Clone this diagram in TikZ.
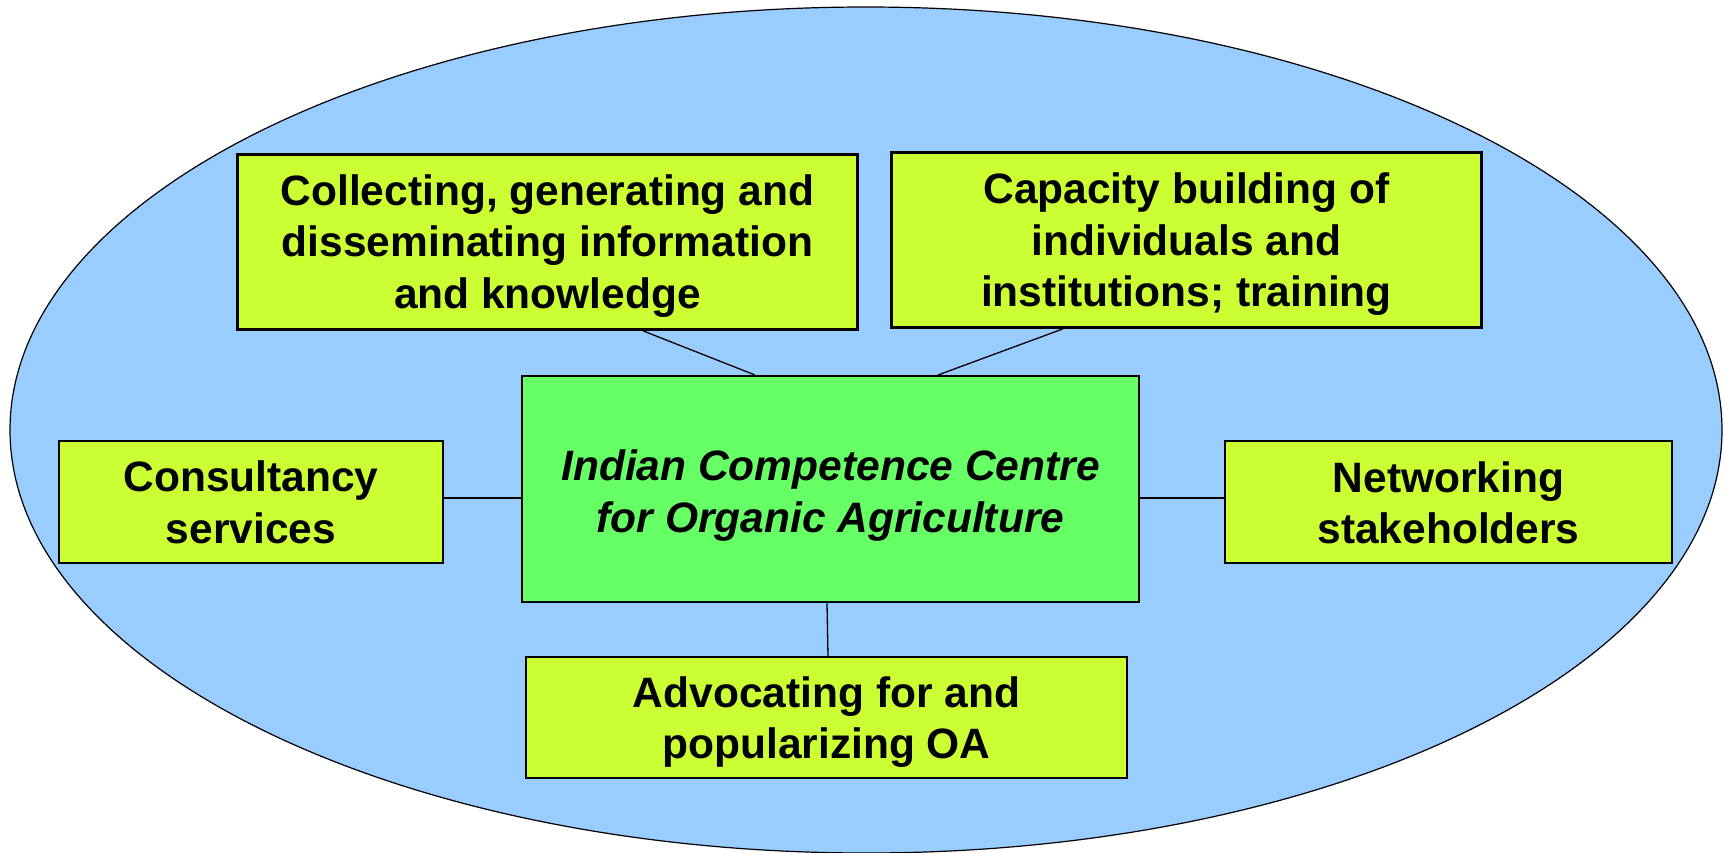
\documentclass[tikz,border=0pt]{standalone}
\usepackage{fontspec}
\setmainfont{Liberation Sans}
\definecolor{skyfill}{HTML}{99CCFF}
\definecolor{limefill}{HTML}{CCFF33}
\definecolor{greenfill}{HTML}{66FF66}
% #1: raise of the first baseline above the box centre, #2: the lines
\newcommand\linesat[2]{\raisebox{#1}[0pt][0pt]{\begin{tabular}[t]{@{}c@{}}#2\end{tabular}}}
\tikzset{
  topicbox/.style={draw=black, fill=limefill, rectangle, inner sep=0pt,
    font=\fontsize{42.5}{51.5}\selectfont\bfseries},
  centrebox/.style={draw=black, fill=greenfill, rectangle, inner sep=0pt, line width=2pt,
    font=\fontsize{42.5}{51.75}\selectfont\bfseries\itshape},
  link/.style={draw=black, line width=1.3pt}
}
\begin{document}
\begin{tikzpicture}[x=1pt,y=-1pt]
\useasboundingbox (0,0) rectangle (1725,852);
\fill[skyfill, draw=black, line width=1.2pt] (866,430) ellipse [x radius=856pt, y radius=423pt];

\node[topicbox, line width=2.7pt, minimum width=620pt, minimum height=175pt] (coll) at (547.5,242)
  {\linesat{37pt}{Collecting, generating and\\disseminating information\\and knowledge}};
\node[topicbox, line width=2.7pt, minimum width=590pt, minimum height=175pt] (cap) at (1186.5,240)
  {\linesat{36.5pt}{Capacity building of\\individuals and\\institutions; training}};
\node[centrebox, minimum width=617pt, minimum height=226pt] (ctr) at (830.5,489)
  {\linesat{8.75pt}{Indian Competence Centre\\for Organic Agriculture}};
\node[topicbox, line width=1.7pt, minimum width=384pt, minimum height=122pt] (cons) at (251,502)
  {\linesat{10.25pt}{Consultancy\\services}};
\node[topicbox, line width=1.5pt, minimum width=447pt, minimum height=122pt] (net) at (1448.5,502)
  {\linesat{9.75pt}{Networking\\stakeholders}};
\node[topicbox, line width=1.5pt, minimum width=601pt, minimum height=121pt] (adv) at (826.5,717.5)
  {\linesat{10.25pt}{Advocating for and\\popularizing OA}};

\draw[link] ([xshift=95.5pt]coll.south) -- ([xshift=-75.5pt]ctr.north);
\draw[link] ([xshift=-123.5pt]cap.south) -- ([xshift=107.5pt]ctr.north);
\draw[link] ([yshift=4pt]cons.east) -- ([yshift=4pt]cons.east -| ctr.west);
\draw[link] ([yshift=4pt]net.west -| ctr.east) -- ([yshift=4pt]net.west);
\draw[link] ([xshift=-3.5pt]ctr.south) -- ([xshift=1.5pt]adv.north);
\end{tikzpicture}
\end{document}
